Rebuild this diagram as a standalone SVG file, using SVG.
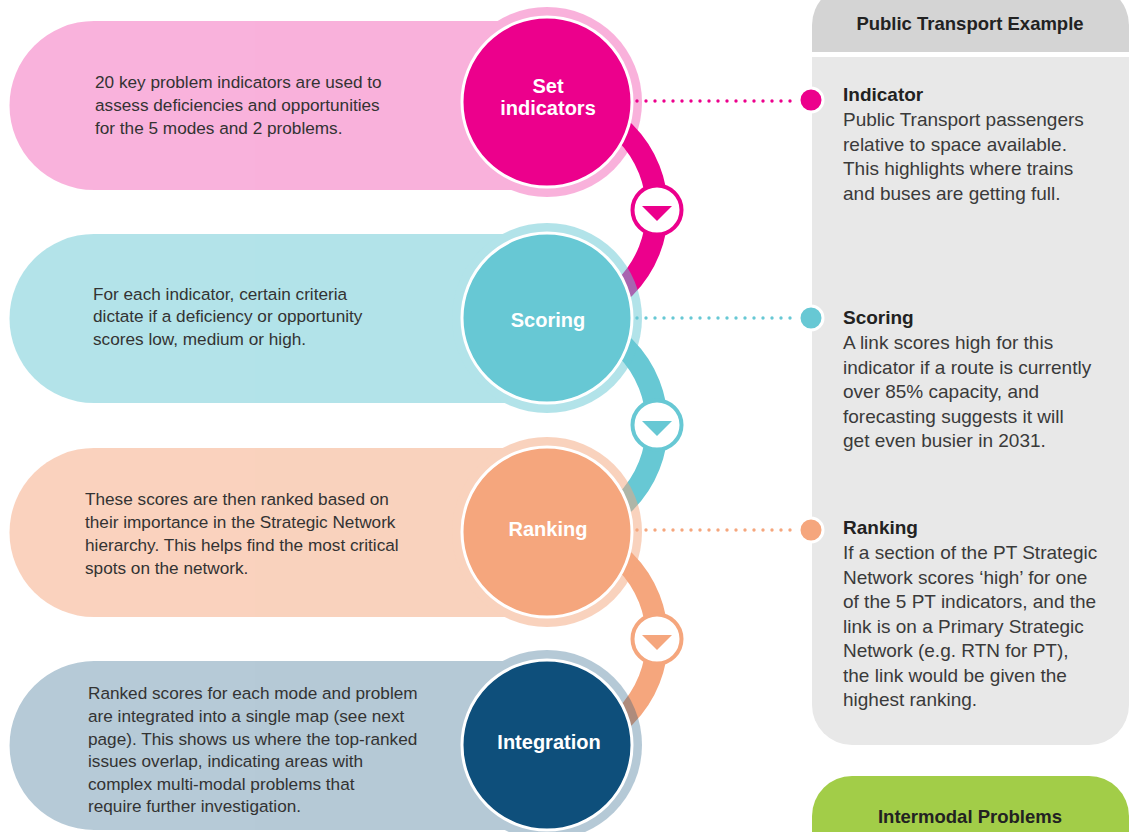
<svg xmlns="http://www.w3.org/2000/svg" width="1129" height="832" viewBox="0 0 1129 832">
<style>
.lt{font-family:"Liberation Sans",Arial,sans-serif;font-size:17.2px;fill:#333333}
.rt{font-family:"Liberation Sans",Arial,sans-serif;font-size:19px;fill:#3a3a3a}
.rh{font-family:"Liberation Sans",Arial,sans-serif;font-size:19px;font-weight:bold;fill:#222222}
.ph{font-family:"Liberation Sans",Arial,sans-serif;font-size:18.5px;font-weight:bold;fill:#222222;text-anchor:middle}
.cl{font-family:"Liberation Sans",Arial,sans-serif;font-size:20px;font-weight:bold;fill:#ffffff;text-anchor:middle}
.inner{stroke:#ffffff;stroke-width:3}
.arc{fill:none;stroke-width:22}
.mk{fill:#ffffff;stroke-width:4}
.dots{fill:none;stroke-width:3.4;stroke-linecap:round;stroke-dasharray:0 9}
.end{stroke:#ffffff;stroke-width:3}
</style>
<rect width="1129" height="832" fill="#ffffff"/>

<g id="panel">
  <path d="M812,52 V25 A40,40 0 0 1 852,-15 H1089 A40,40 0 0 1 1129,25 V52 Z" fill="#d4d4d4"/>
  <path d="M812,57 H1129 V705 A40,40 0 0 1 1089,745 H852 A40,40 0 0 1 812,705 Z" fill="#e8e8e8"/>
  <text class="ph" x="970" y="30">Public Transport Example</text>
  <text x="843" y="101"><tspan class="rh">Indicator</tspan></text>
  <text class="rt"><tspan x="843" y="126">Public Transport passengers</tspan><tspan x="843" y="150.5">relative to space available.</tspan><tspan x="843" y="175">This highlights where trains</tspan><tspan x="843" y="199.5">and buses are getting full.</tspan></text>
  <text x="843" y="324"><tspan class="rh">Scoring</tspan></text>
  <text class="rt"><tspan x="843" y="349">A link scores high for this</tspan><tspan x="843" y="373.5">indicator if a route is currently</tspan><tspan x="843" y="398">over 85% capacity, and</tspan><tspan x="843" y="422.5">forecasting suggests it will</tspan><tspan x="843" y="447">get even busier in 2031.</tspan></text>
  <text x="843" y="534"><tspan class="rh">Ranking</tspan></text>
  <text class="rt"><tspan x="843" y="559">If a section of the PT Strategic</tspan><tspan x="843" y="583.5">Network scores ‘high’ for one</tspan><tspan x="843" y="608">of the 5 PT indicators, and the</tspan><tspan x="843" y="632.5">link is on a Primary Strategic</tspan><tspan x="843" y="657">Network (e.g. RTN for PT),</tspan><tspan x="843" y="681.5">the link would be given the</tspan><tspan x="843" y="706">highest ranking.</tspan></text>
</g>

<g id="intermodal">
  <path d="M812,850 V816 A40,40 0 0 1 852,776 H1089 A40,40 0 0 1 1129,816 V850 Z" fill="#a2cd48"/>
  <text class="ph" x="970" y="823">Intermodal Problems</text>
</g>

<g id="connectors">
  <path class="arc" d="M547,100 A110,110 0 0 1 547,320" stroke="#ec008c"/>
  <path class="arc" d="M547,315 A110,110 0 0 1 547,535" stroke="#67c8d4"/>
  <path class="arc" d="M547,529 A110,110 0 0 1 547,749" stroke="#f5a67d"/>
  <circle class="mk" cx="657" cy="210" r="24.5" stroke="#ec008c"/>
  <polygon points="642,206 672,206 657,221" fill="#ec008c"/>
  <circle class="mk" cx="657" cy="425" r="24.5" stroke="#67c8d4"/>
  <polygon points="642,421 672,421 657,436" fill="#67c8d4"/>
  <circle class="mk" cx="657" cy="639" r="24.5" stroke="#f5a67d"/>
  <polygon points="642,635 672,635 657,650" fill="#f5a67d"/>
  <path class="dots" d="M628,101 H792" stroke="#ec008c"/>
  <path class="dots" d="M628,318 H792" stroke="#67c8d4"/>
  <path class="dots" d="M628,530 H792" stroke="#f5a67d"/>
  <circle class="end" cx="811" cy="100" r="12" fill="#ec008c"/>
  <circle class="end" cx="811" cy="318" r="12" fill="#67c8d4"/>
  <circle class="end" cx="811" cy="530" r="12" fill="#f5a67d"/>
</g>

<g id="node-set-indicators">
  <g opacity="0.3" fill="#ec008c">
    <path d="M547,21 H94 A84.5,84.5 0 0 0 94,190 H547 Z"/>
    <circle cx="547" cy="102" r="95"/>
  </g>
  <circle class="inner" cx="547" cy="102" r="85" fill="#ec008c"/>
  <text class="cl" x="548"><tspan x="548" y="93">Set</tspan><tspan x="548" y="115">indicators</tspan></text>
  <text class="lt"><tspan x="95" y="88">20 key problem indicators are used to</tspan><tspan x="95" y="111">assess deficiencies and opportunities</tspan><tspan x="95" y="134">for the 5 modes and 2 problems.</tspan></text>
</g>

<g id="node-scoring">
  <g opacity="0.5" fill="#67c8d4">
    <path d="M547,234 H94 A84.5,84.5 0 0 0 94,403 H547 Z"/>
    <circle cx="547" cy="318" r="95"/>
  </g>
  <circle class="inner" cx="547" cy="318" r="85" fill="#67c8d4"/>
  <text class="cl" x="548" y="327">Scoring</text>
  <text class="lt"><tspan x="93" y="300">For each indicator, certain criteria</tspan><tspan x="93" y="322">dictate if a deficiency or opportunity</tspan><tspan x="93" y="345">scores low, medium or high.</tspan></text>
</g>

<g id="node-ranking">
  <g opacity="0.5" fill="#f5a67d">
    <path d="M547,448 H94 A84.5,84.5 0 0 0 94,617 H547 Z"/>
    <circle cx="547" cy="532" r="95"/>
  </g>
  <circle class="inner" cx="547" cy="532" r="85" fill="#f5a67d"/>
  <text class="cl" x="548" y="536">Ranking</text>
  <text class="lt"><tspan x="85" y="505">These scores are then ranked based on</tspan><tspan x="85" y="528">their importance in the Strategic Network</tspan><tspan x="85" y="551">hierarchy. This helps find the most critical</tspan><tspan x="85" y="574">spots on the network.</tspan></text>
</g>

<g id="node-integration">
  <g opacity="0.3" fill="#0e4f7b">
    <path d="M547,661 H94 A84.5,84.5 0 0 0 94,830 H547 Z"/>
    <circle cx="547" cy="745" r="95"/>
  </g>
  <circle class="inner" cx="547" cy="745" r="85" fill="#0e4f7b"/>
  <text class="cl" x="549" y="749">Integration</text>
  <text class="lt"><tspan x="88" y="699">Ranked scores for each mode and problem</tspan><tspan x="88" y="722">are integrated into a single map (see next</tspan><tspan x="88" y="745">page). This shows us where the top-ranked</tspan><tspan x="88" y="767">issues overlap, indicating areas with</tspan><tspan x="88" y="790">complex multi-modal problems that</tspan><tspan x="88" y="812">require further investigation.</tspan></text>
</g>
</svg>
